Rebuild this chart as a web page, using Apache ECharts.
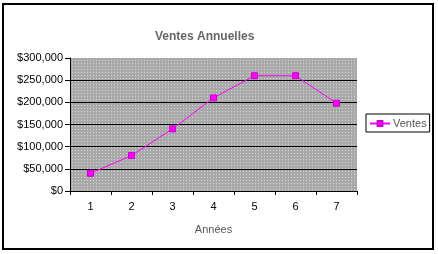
<!DOCTYPE html>
<html><head><meta charset="utf-8">
<script src="https://cdn.jsdelivr.net/npm/echarts@6/dist/echarts.min.js"></script>
<style>html,body{margin:0;padding:0;background:#fff}#c{width:438px;height:254px}</style>
</head><body><div id="c"></div>
<script>
const categories = ['1','2','3','4','5','6','7'];
const ventes = [40000, 80000, 140000, 210000, 260000, 260000, 198000];
const yTicks = [0, 50000, 100000, 150000, 200000, 250000, 300000];

const pc = document.createElement('canvas');
pc.width = 3; pc.height = 3;
const px = pc.getContext('2d');
px.fillStyle = '#a9a9a9'; px.fillRect(0,0,3,3);
px.fillStyle = '#d4d4d4'; px.fillRect(0,0,1,1);

const chart = echarts.init(document.getElementById('c'), null, {renderer:'canvas'});
chart.setOption({
  animation:false,
  backgroundColor:'#fff',
  title:{text:'Ventes Annuelles', left:150, top:26,
    textStyle:{fontFamily:'Liberation Sans', fontWeight:'bold', fontSize:12, color:'#666'}},
  legend:{data:['Ventes'], left:366, top:114, orient:'vertical',
    borderColor:'#000', borderWidth:1, padding:[4,3,3,3], itemWidth:20, itemHeight:6, itemGap:0,
    textStyle:{fontFamily:'Liberation Sans', fontSize:11, color:'#555', padding:[0,0,0,-2]}},
  grid:{left:70, right:81, top:58, bottom:63, show:true, borderWidth:0,
    backgroundColor:{image:pc, repeat:'repeat'}},
  xAxis:{type:'category', data:categories, boundaryGap:true,
    name:'Années', nameLocation:'middle', nameGap:33,
    nameTextStyle:{fontFamily:'Liberation Sans', fontSize:11, color:'#555'},
    axisLine:{lineStyle:{color:'#000', width:1}},
    axisTick:{show:true, length:4, lineStyle:{color:'#000'}},
    axisLabel:{fontFamily:'Liberation Sans', fontSize:11, color:'#000', margin:10}},
  yAxis:{type:'value', min:yTicks[0], max:yTicks[yTicks.length-1], interval:50000,
    axisLine:{show:true, lineStyle:{color:'#000', width:1}},
    axisTick:{show:true, length:5, lineStyle:{color:'#000'}},
    axisLabel:{fontFamily:'Liberation Sans', fontSize:11, color:'#000', margin:7,
      formatter: v => '$' + v.toLocaleString('en-US')},
    splitLine:{show:true, lineStyle:{color:['#000','#000','#000','#000','#000','#000','rgba(0,0,0,0)'], width:1}}},
  series:[{name:'Ventes', type:'line', data:ventes, symbol:'rect', symbolSize:6,
    lineStyle:{color:'#ff00ff', width:1}, itemStyle:{color:'#ff00ff', borderColor:'#cc00cc', borderWidth:1}}],
  graphic:[{type:'rect', shape:{x:3, y:4, width:430, height:245},
    style:{fill:null, stroke:'#000', lineWidth:2}, silent:true, z:100}]
});
</script></body></html>
